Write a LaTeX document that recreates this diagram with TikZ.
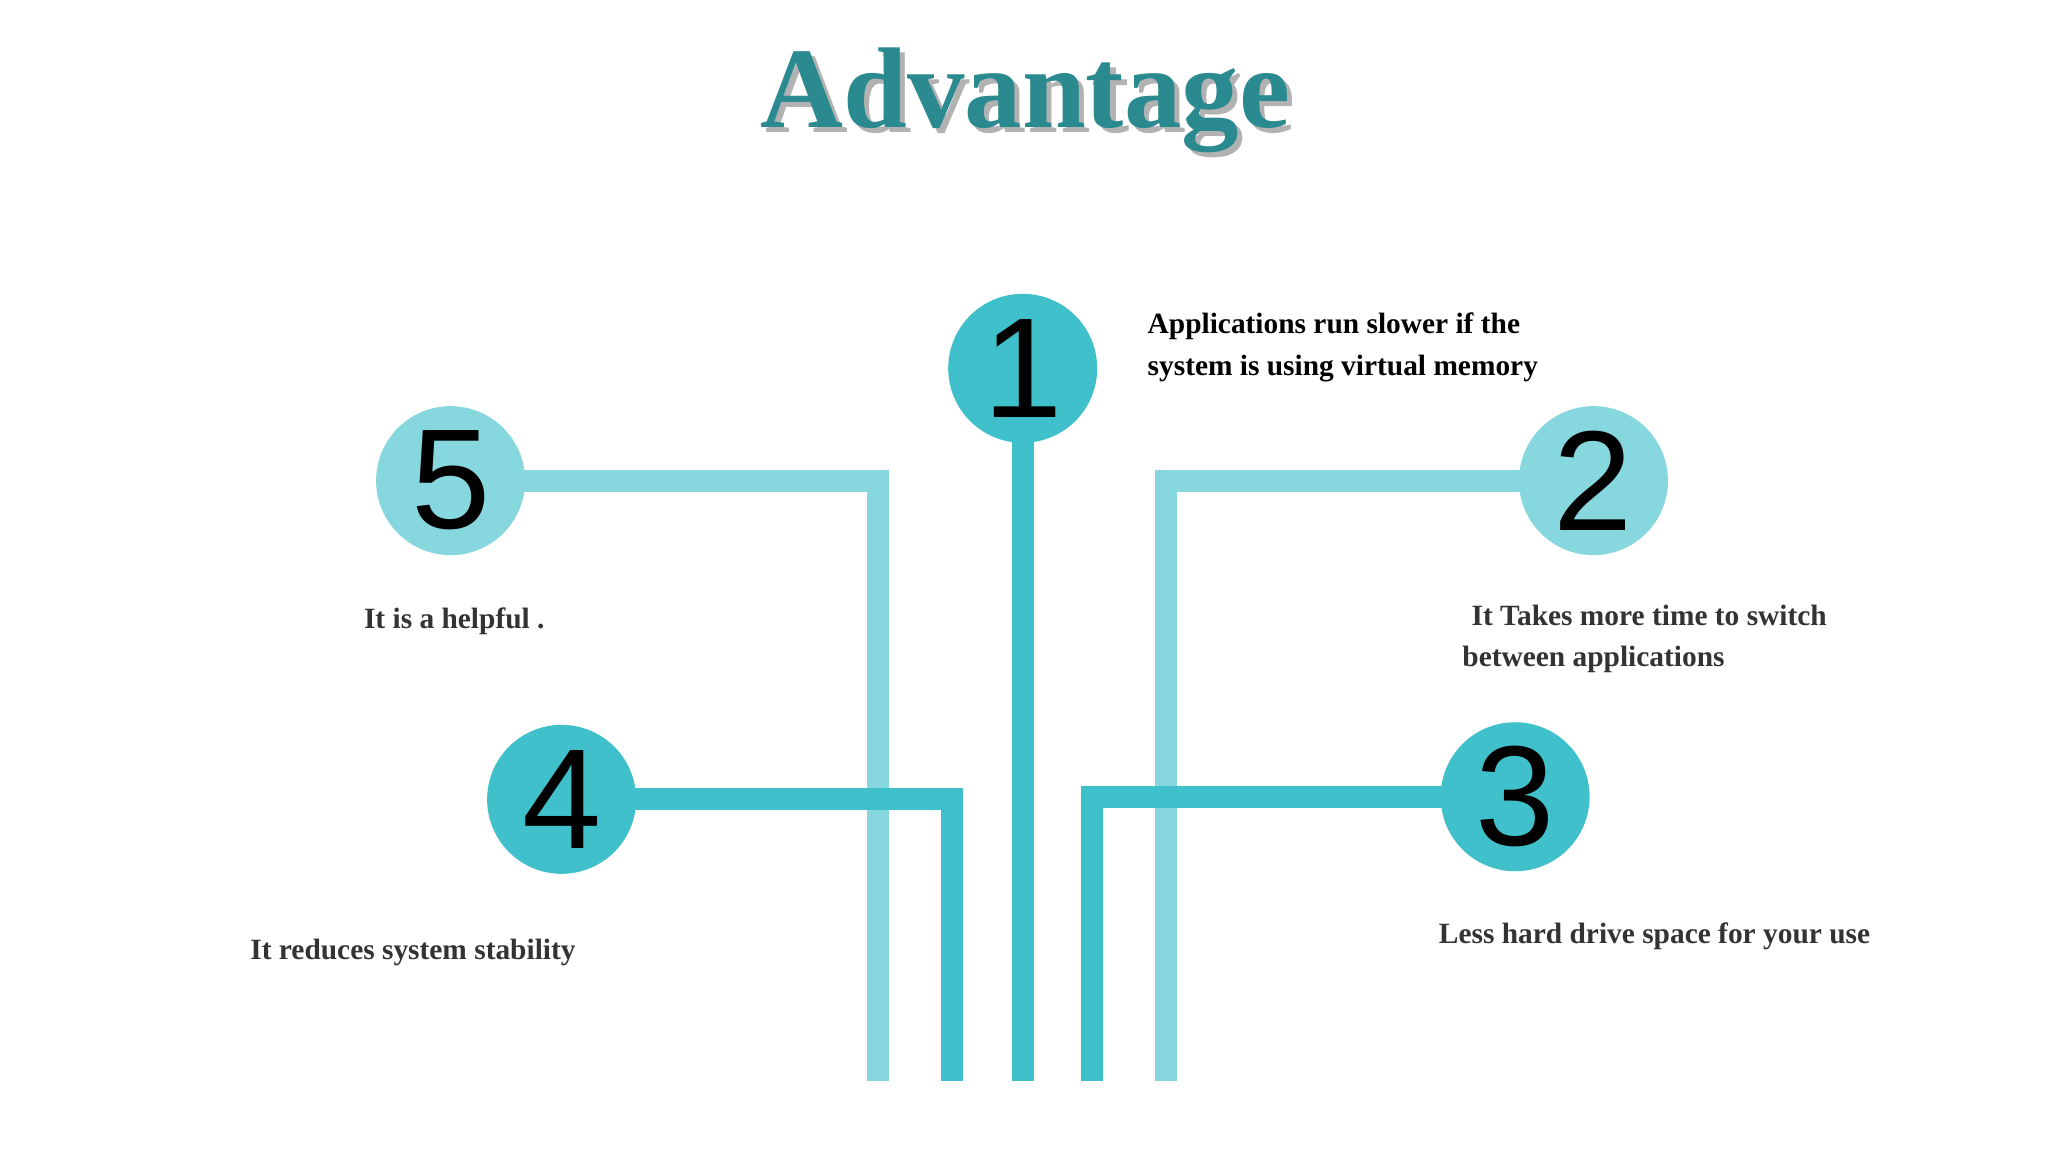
\documentclass[tikz,border=0pt]{standalone}
\usepackage{fontspec}
\setmainfont{Liberation Serif}
\newfontfamily\digitfont{Liberation Sans}
\definecolor{teal1}{HTML}{2A8A90}
\definecolor{darkc}{HTML}{40C0CA}
\definecolor{lightc}{HTML}{86D7DE}
\definecolor{txt}{HTML}{333333}
\begin{document}
\begin{tikzpicture}[x=0.01cm,y=-0.01cm,
  circ/.style={circle,minimum size=1.14cm,inner sep=0pt,font=\digitfont\fontsize{31}{31}\selectfont},
  lite/.style={circ,fill=lightc},
  dark/.style={circ,fill=darkc},
  litel/.style={draw=lightc,line width=0.17cm,line join=miter},
  darkl/.style={draw=darkc,line width=0.17cm,line join=miter},
  lbl/.style={font=\bfseries\fontsize{6.4}{9}\selectfont,text=txt,anchor=west,inner sep=0pt,align=left}]
\useasboundingbox (0,0) rectangle (1568,882);
\fill[white] (0,0) rectangle (1568,882);
% title
\node[font=\bfseries\fontsize{25}{25}\selectfont,text=gray!60] at (789,81) {Advantage};
\node[font=\bfseries\fontsize{25}{25}\selectfont,text=teal1] (title) at (785,77) {Advantage};
% coordinates
\coordinate (e1) at (783,828);
\coordinate (c2) at (893,368); \coordinate (e2) at (893,828);
\coordinate (c5) at (672,368); \coordinate (e5) at (672,828);
\coordinate (c4) at (729,612); \coordinate (e4) at (729,828);
\coordinate (c3) at (836,610); \coordinate (e3) at (836,828);
\coordinate (n1) at (783,282);
\coordinate (n2) at (1220,368);
\coordinate (n5) at (345,368);
\coordinate (n4) at (430,612);
\coordinate (n3) at (1160,610);
% lines
\draw[litel] (n5) -- (c5) -- (e5);
\draw[litel] (n2) -- (c2) -- (e2);
\draw[darkl] (n4) -- (c4) -- (e4);
\draw[darkl] (n3) -- (c3) -- (e3);
\draw[darkl] (n1) -- (e1);
% circles
\node[dark] (k1) at (n1) {1};
\node[lite] (k2) at (n2) {2};
\node[dark] (k3) at (n3) {3};
\node[dark] (k4) at (n4) {4};
\node[lite] (k5) at (n5) {5};
% labels
\node[lbl,text=black] (t1) at (878,266) {Applications run slower if the\\system is using virtual memory};
\node[lbl] (t2) at (1119,489) {\hspace{0.07cm}It Takes more time to switch\\between applications};
\node[lbl] (t3) at (1101,717) {Less hard drive space for your use};
\node[lbl] (t4) at (191,729) {It reduces system stability};
\node[lbl] (t5) at (278,476) {It is a helpful .};
\end{tikzpicture}
\end{document}
